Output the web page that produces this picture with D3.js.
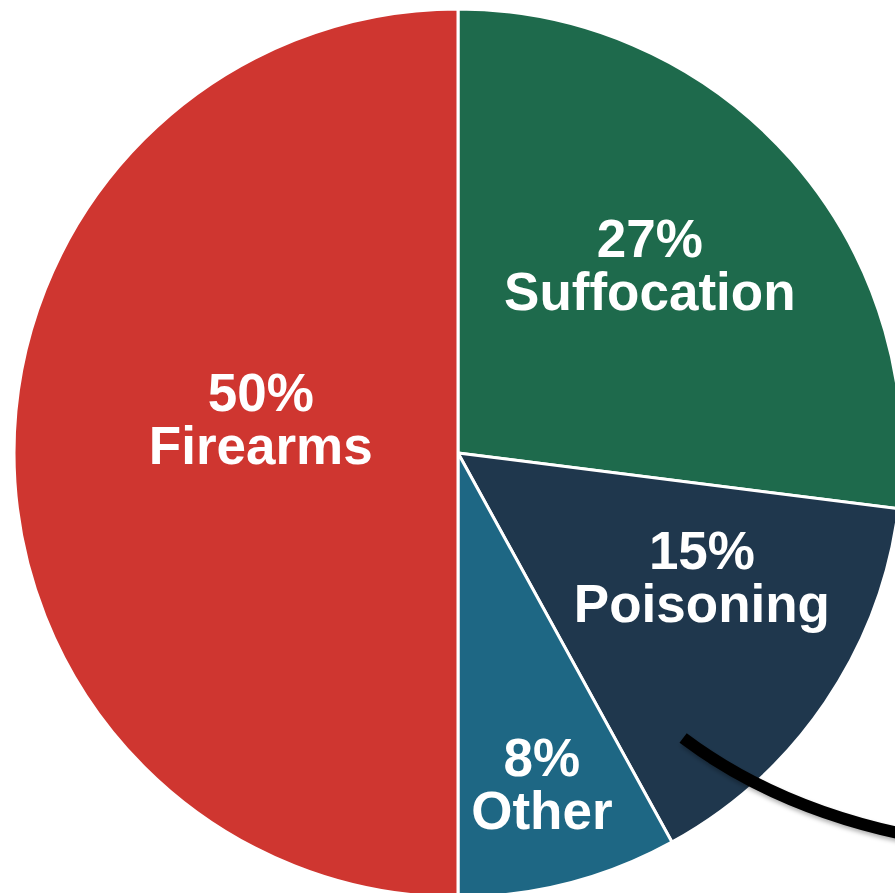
<!DOCTYPE html>
<html>
<head>
<meta charset="utf-8">
<script src="https://cdn.jsdelivr.net/npm/d3@7/dist/d3.min.js"></script>
<style>
  html, body { margin: 0; padding: 0; background: #fff; overflow: hidden; }
  svg { display: block; }
</style>
</head>
<body>
<script>
// Share of deaths by method (percent), clockwise from 12 o'clock
const categories = ["Suffocation", "Poisoning", "Other", "Firearms"];
const percents   = [27, 15, 8, 50];
const colors     = ["#1e6a4c", "#1f374d", "#1e6784", "#cf3630"];

const W = 895, H = 893;
const cx = 458, cy = 453, R = 444;

const svg = d3.select("body").append("svg")
  .attr("width", W).attr("height", H);

const defs = svg.append("defs");
const shadow = defs.append("filter").attr("id", "shadow")
  .attr("x", "-10%").attr("y", "-20%").attr("width", "120%").attr("height", "150%");
shadow.append("feDropShadow")
  .attr("dx", 1).attr("dy", 3).attr("stdDeviation", 2)
  .attr("flood-color", "#000").attr("flood-opacity", 0.3);

const data = categories.map((c, i) => ({ name: c, value: percents[i], color: colors[i] }));

const pie = d3.pie().sort(null).value(d => d.value)
  .startAngle(0).endAngle(2 * Math.PI);
const arcs = pie(data);

const arc = d3.arc().innerRadius(0).outerRadius(R);

const g = svg.append("g").attr("transform", `translate(${cx},${cy})`);

g.selectAll("path.slice")
  .data(arcs)
  .join("path")
  .attr("class", "slice")
  .attr("d", arc)
  .attr("fill", d => d.data.color)
  .attr("stroke", "#fff")
  .attr("stroke-width", 3)
  .attr("stroke-linejoin", "round");

// label placement: radius from centre and small angular nudge (degrees)
const labelPos = {
  Suffocation: { r: 268, nudge: -2.9 },
  Poisoning:   { r: 274, nudge: -7.1 },
  Other:       { r: 342, nudge: 0.2 },
  Firearms:    { r: 200, nudge: 9.5 }
};

const fontSize = 53, lineGap = 53;

const labels = g.selectAll("g.label")
  .data(arcs)
  .join("g")
  .attr("class", "label")
  .attr("transform", d => {
    const p = labelPos[d.data.name];
    const a = (d.startAngle + d.endAngle) / 2 + p.nudge * Math.PI / 180;
    return `translate(${p.r * Math.sin(a)},${-p.r * Math.cos(a)})`;
  });

labels.append("text")
  .attr("text-anchor", "middle")
  .attr("y", -9)
  .attr("fill", "#fff")
  .attr("font-family", "'Liberation Sans', Arial, sans-serif")
  .attr("font-weight", "bold")
  .attr("font-size", fontSize)
  .text(d => d.data.value + "%");

labels.append("text")
  .attr("text-anchor", "middle")
  .attr("y", -9 + lineGap)
  .attr("fill", "#fff")
  .attr("font-family", "'Liberation Sans', Arial, sans-serif")
  .attr("font-weight", "bold")
  .attr("font-size", fontSize)
  .text(d => d.data.name);

// callout stroke leaving the Poisoning slice and sweeping off to the right
const c0 = [0.507 * R, 0.642 * R];
const c1 = [0.712 * R, 0.796 * R];
const c2 = [1.0 * R, 0.858 * R];

g.append("path")
  .attr("d", `M${c0[0]},${c0[1]} Q${c1[0]},${c1[1]} ${c2[0]},${c2[1]}`)
  .attr("fill", "none")
  .attr("stroke", "#000")
  .attr("stroke-width", 12)
  .attr("stroke-linecap", "butt")
  .attr("filter", "url(#shadow)");
</script>
</body>
</html>
